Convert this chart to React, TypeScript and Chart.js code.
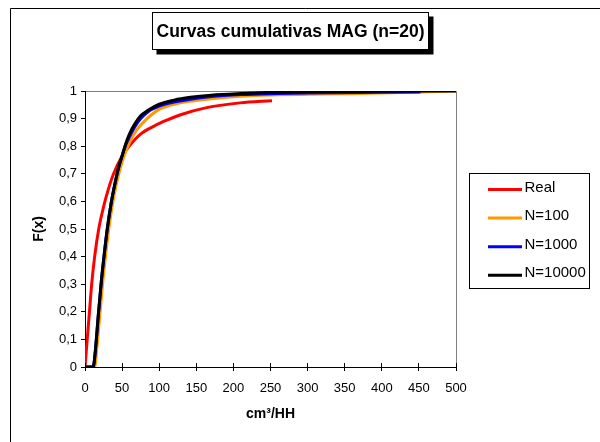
import React, { useEffect, useRef } from "react";
import { Chart, registerables } from "chart.js";

Chart.register(...registerables);

const FONT = "'Liberation Sans', Arial, Helvetica, sans-serif";

const titleText = "Curvas cumulativas MAG (n=20)";
const xAxisTitle = "cm³/HH";
const yAxisTitle = "F(x)";

const seriesNames = ["Real", "N=100", "N=1000", "N=10000"];
const seriesColors = ["#FF0000", "#FF9900", "#0000FF", "#000000"];

const realX = [0, 3, 6, 9, 13, 18.5, 25, 31, 38.5, 49.9, 61, 74.5, 92.5, 111, 130, 161, 209, 252];
const realY = [0, 0.1, 0.2, 0.3, 0.4, 0.5, 0.58, 0.64, 0.7, 0.764, 0.805, 0.843, 0.872, 0.895, 0.915, 0.938, 0.957, 0.965];

const n100X = [0, 13, 16, 20, 24, 28, 32, 37, 42, 47, 52, 57, 63, 70, 78, 90, 101, 120, 142, 170, 209, 260, 300, 357, 500];
const n100Y = [0, 0, 0.07, 0.19, 0.31, 0.41, 0.5, 0.59, 0.66, 0.715, 0.76, 0.795, 0.83, 0.86, 0.885, 0.915, 0.935, 0.952, 0.963, 0.972, 0.981, 0.986, 0.988, 0.99, 1];

const n1000X = [0, 11, 14, 18, 22, 26, 30, 35, 40, 45, 50, 55, 60, 67, 75, 85, 100, 120, 142, 170, 210, 260, 300, 452];
const n1000Y = [0, 0, 0.06, 0.19, 0.31, 0.41, 0.5, 0.59, 0.66, 0.72, 0.765, 0.805, 0.835, 0.87, 0.9, 0.925, 0.945, 0.96, 0.97, 0.98, 0.987, 0.991, 0.993, 0.996];

const n10000X = [0, 11, 14, 18, 22, 26, 30, 35, 40, 45, 50, 55, 60, 67, 75, 85, 100, 120, 142, 170, 210, 250, 300, 400, 500];
const n10000Y = [0, 0, 0.06, 0.19, 0.31, 0.41, 0.5, 0.59, 0.66, 0.72, 0.765, 0.81, 0.845, 0.88, 0.91, 0.93, 0.952, 0.967, 0.977, 0.985, 0.991, 0.995, 0.997, 0.999, 1];

const seriesX = [realX, n100X, n1000X, n10000X];
const seriesY = [realY, n100Y, n1000Y, n10000Y];

const xMin = 0;
const xMax = 500;
const xStep = 50;
const yMin = 0;
const yMax = 1;
const yStep = 0.1;

const align = (p: number) => Math.round(p - 0.5) + 0.5;

const decorPlugin = {
  id: "decor",
  beforeDraw(chart: any) {
    const { ctx, chartArea: a } = chart;
    ctx.save();
    ctx.fillStyle = "#fff";
    ctx.fillRect(0, 0, chart.width, chart.height);
    // outer chart border
    ctx.strokeStyle = "#000";
    ctx.lineWidth = 1;
    ctx.beginPath();
    ctx.moveTo(10.5, chart.height + 2);
    ctx.lineTo(10.5, 8.5);
    ctx.lineTo(chart.width + 2, 8.5);
    ctx.stroke();
    // plot area border
    ctx.strokeStyle = "#808080";
    ctx.beginPath();
    ctx.moveTo(align(a.left), align(a.top));
    ctx.lineTo(align(a.right), align(a.top));
    ctx.lineTo(align(a.right), align(a.bottom));
    ctx.stroke();
    // title box with shadow
    const bx = 152.5, by = 12.5, bw = 276, bh = 37;
    ctx.fillStyle = "#000";
    ctx.fillRect(bx + 4, by + 4, bw + 1, bh + 1);
    ctx.fillStyle = "#fff";
    ctx.fillRect(bx, by, bw, bh);
    ctx.strokeStyle = "#000";
    ctx.strokeRect(bx, by, bw, bh);
    ctx.fillStyle = "#000";
    ctx.font = `bold 17.5px ${FONT}`;
    ctx.textAlign = "center";
    ctx.textBaseline = "middle";
    ctx.fillText(titleText, bx + bw / 2, by + bh / 2 + 1);
    ctx.restore();
  },
  afterDraw(chart: any) {
    const { ctx, chartArea: a } = chart;
    const xs = chart.scales.x;
    ctx.save();
    // inner half of crossing x tick marks
    ctx.strokeStyle = "#000";
    ctx.lineWidth = 1;
    ctx.beginPath();
    for (const t of xs.ticks) {
      const px = align(xs.getPixelForValue(t.value));
      ctx.moveTo(px, a.bottom);
      ctx.lineTo(px, a.bottom - 4);
    }
    ctx.stroke();
    // legend box
    const lx = 469.5, ly = 173.5, lw = 120, lh = 115;
    ctx.fillStyle = "#fff";
    ctx.fillRect(lx, ly, lw, lh);
    ctx.strokeStyle = "#000";
    ctx.strokeRect(lx, ly, lw, lh);
    ctx.font = `15px ${FONT}`;
    ctx.textAlign = "left";
    ctx.textBaseline = "middle";
    chart.data.datasets.forEach((ds: any, i: number) => {
      const y = 189.5 + i * 28.6;
      ctx.strokeStyle = ds.borderColor;
      ctx.lineWidth = 3;
      ctx.beginPath();
      ctx.moveTo(488, y);
      ctx.lineTo(522, y);
      ctx.stroke();
      ctx.fillStyle = "#000";
      ctx.fillText(ds.label, 524.5, y - 2);
    });
    ctx.restore();
  },
};

export default function App() {
  const ref = useRef<HTMLCanvasElement>(null);

  useEffect(() => {
    if (!ref.current) return;
    Chart.defaults.font.family = FONT;
    Chart.defaults.color = "#000";
    const datasets = seriesNames.map((name, i) => ({
      label: name,
      data: seriesX[i].map((x, j) => ({ x, y: seriesY[i][j] })),
      borderColor: seriesColors[i],
      backgroundColor: seriesColors[i],
      borderWidth: 3,
      pointRadius: 0,
      showLine: true,
      fill: false,
      cubicInterpolationMode: "monotone" as const,
      order: seriesNames.length - i,
    }));
    const chart = new Chart(ref.current, {
      type: "scatter",
      data: { datasets },
      options: {
        animation: false,
        responsive: false,
        devicePixelRatio: 1,
        layout: { padding: { left: 0, top: 91, right: 144, bottom: 0 } },
        plugins: {
          legend: { display: false },
          title: { display: false },
          tooltip: { enabled: false },
        },
        scales: {
          x: {
            type: "linear",
            min: xMin,
            max: xMax,
            afterFit: (s: any) => {
              s.height = 75;
            },
            ticks: {
              stepSize: xStep,
              font: { size: 13 },
              color: "#000",
              padding: 10,
              maxRotation: 0,
              autoSkip: false,
            },
            grid: {
              drawOnChartArea: false,
              drawTicks: true,
              tickLength: 4,
              color: "#000",
            },
            border: { display: true, color: "#000", width: 1 },
            title: {
              display: true,
              text: xAxisTitle,
              font: { size: 14, weight: "bold" },
              color: "#000",
              padding: { top: 0, bottom: 19 },
            },
          },
          y: {
            type: "linear",
            min: yMin,
            max: yMax,
            afterFit: (s: any) => {
              s.width = 85;
            },
            ticks: {
              stepSize: yStep,
              font: { size: 13 },
              color: "#000",
              padding: 4,
              autoSkip: false,
              callback: (v: any) => {
                const n = Math.round(Number(v) * 10) / 10;
                return String(n).replace(".", ",");
              },
            },
            grid: {
              drawOnChartArea: false,
              drawTicks: true,
              tickLength: 4,
              color: "#000",
            },
            border: { display: true, color: "#000", width: 1 },
            title: {
              display: true,
              text: yAxisTitle,
              font: { size: 14, weight: "bold" },
              color: "#000",
              padding: { top: 31, bottom: 0 },
            },
          },
        },
      },
      plugins: [decorPlugin],
    });
    return () => chart.destroy();
  }, []);

  return (
    <div
      style={{
        position: "fixed",
        left: 0,
        top: 0,
        width: 600,
        height: 442,
        background: "#fff",
      }}
    >
      <canvas
        ref={ref}
        width={600}
        height={442}
        style={{ display: "block", width: 600, height: 442 }}
      />
    </div>
  );
}
